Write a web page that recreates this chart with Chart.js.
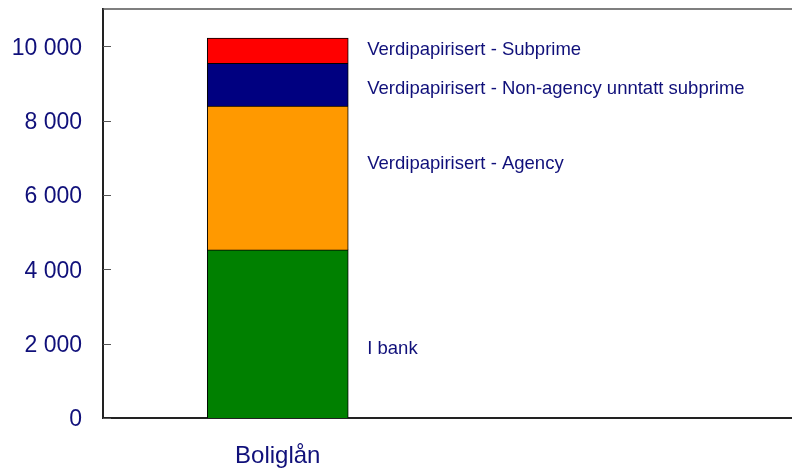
<!DOCTYPE html>
<html>
<head>
<meta charset="utf-8">
<script src="https://cdn.jsdelivr.net/npm/chart.js@4"></script>
<style>
  html, body { margin: 0; padding: 0; background: #fff; overflow: hidden; }
  #wrap { width: 802px; height: 471px; }
</style>
</head>
<body>
<div id="wrap"><canvas id="loanChart"></canvas></div>
<script>
const categories = ['Boliglån', ''];
const seriesNames = ['I bank', 'Verdipapirisert - Agency', 'Verdipapirisert - Non-agency unntatt subprime', 'Verdipapirisert - Subprime'];
const iBank = [4520, null];
const agency = [3870, null];
const nonAgency = [1150, null];
const subprime = [675, null];
const yTicks = [0, 2000, 4000, 6000, 8000, 10000];
// where each series name sits, in axis units
const nameAt = [1860, 6840, 8850, 9910];

const navy = '#10107a';
const fontFamily = '"Liberation Sans", Arial, sans-serif';

// frame line on top + inward tick marks + series names
const extras = {
  id: 'extras',
  afterDraw(chart) {
    const ctx = chart.ctx;
    const area = chart.chartArea;
    const y = chart.scales.y;
    ctx.save();
    ctx.strokeStyle = '#555';
    ctx.lineWidth = 1.5;
    ctx.beginPath();
    ctx.moveTo(area.left, area.top);
    ctx.lineTo(chart.width, area.top);
    ctx.stroke();
    ctx.lineWidth = 1;
    yTicks.forEach(v => {
      const py = Math.round(y.getPixelForValue(v)) + 0.5;
      ctx.beginPath();
      ctx.moveTo(area.left, py);
      ctx.lineTo(area.left + 8, py);
      ctx.stroke();
    });
    ctx.fillStyle = navy;
    ctx.font = '18.5px ' + fontFamily;
    ctx.textBaseline = 'middle';
    ctx.textAlign = 'left';
    const bar = chart.getDatasetMeta(0).data[0];
    const tx = bar.x + bar.width / 2 + 19;
    seriesNames.forEach((name, i) => {
      ctx.fillText(name, tx, y.getPixelForValue(nameAt[i]));
    });
    ctx.restore();
  }
};

const ds = (label, data, color) => ({
  label: label,
  data: data,
  backgroundColor: color,
  borderColor: '#000',
  borderWidth: 1,
  barThickness: 141
});

new Chart(document.getElementById('loanChart'), {
  type: 'bar',
  data: {
    labels: categories,
    datasets: [
      ds(seriesNames[0], iBank, '#008000'),
      ds(seriesNames[1], agency, '#ff9900'),
      ds(seriesNames[2], nonAgency, '#000080'),
      ds(seriesNames[3], subprime, '#ff0000')
    ]
  },
  options: {
    responsive: true,
    maintainAspectRatio: false,
    animation: false,
    layout: { padding: { top: 9, left: 0, right: 0, bottom: 0 } },
    plugins: {
      legend: { display: false },
      tooltip: { enabled: false }
    },
    scales: {
      x: {
        stacked: true,
        grid: { display: false, drawTicks: false },
        border: { display: true, color: '#222', width: 2 },
        ticks: {
          color: navy,
          font: { family: fontFamily, size: 24 },
          padding: 24
        },
        afterFit(scale) { scale.height = 53; }
      },
      y: {
        stacked: true,
        min: 0,
        max: 11000,
        afterBuildTicks(scale) { scale.ticks = yTicks.map(v => ({ value: v })); },
        grid: { display: false, drawTicks: false },
        border: { display: true, color: '#222', width: 2 },
        ticks: {
          color: navy,
          font: { family: fontFamily, size: 23 },
          padding: 21,
          labelOffset: 2,
          callback: v => v.toString().replace(/\B(?=(\d{3})+(?!\d))/g, ' ')
        },
        afterFit(scale) {
          scale.width = 103;
          scale.paddingTop = 0;
          scale.paddingBottom = 0;
        }
      }
    }
  },
  plugins: [extras]
});
</script>
</body>
</html>
